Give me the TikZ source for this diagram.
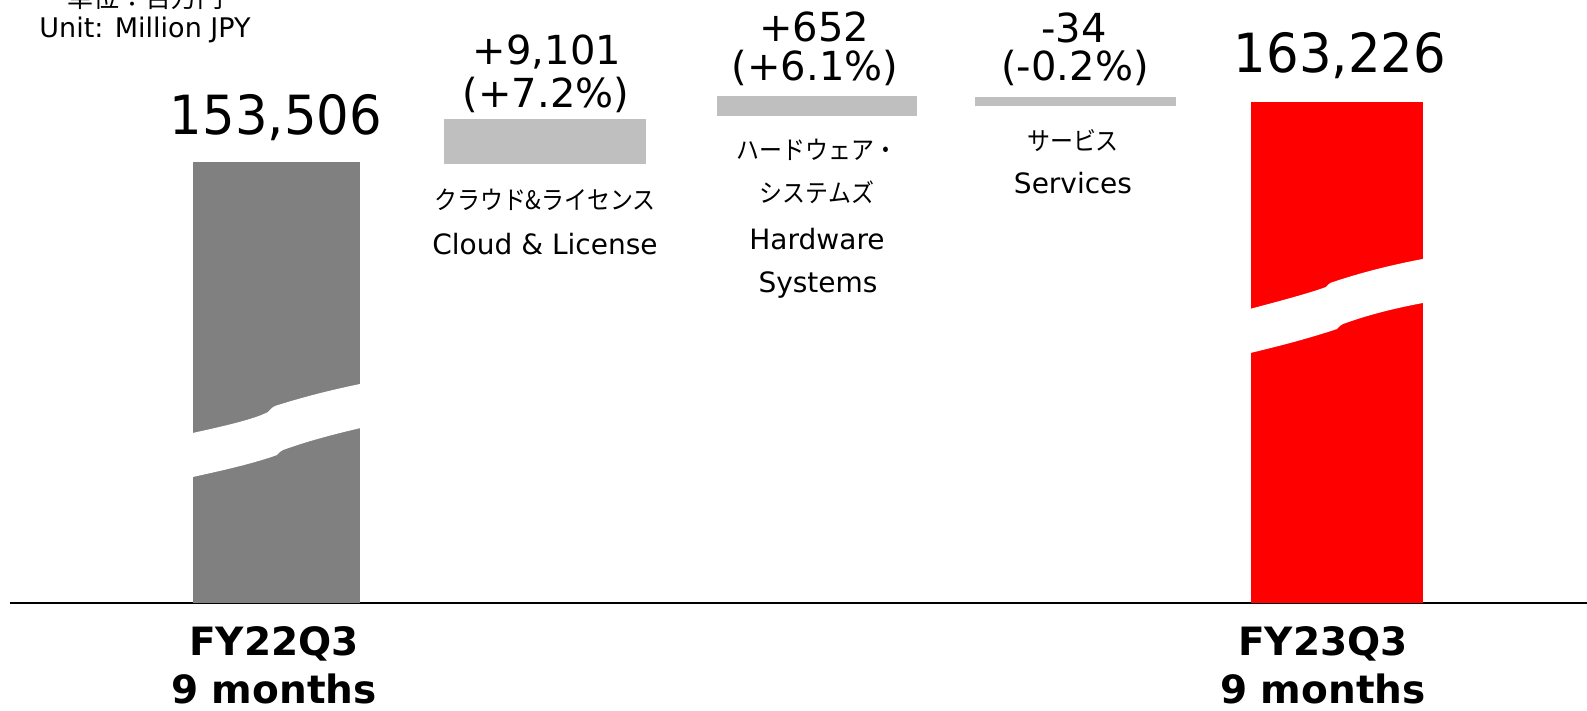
\documentclass[tikz,border=0pt]{standalone}
\usepackage{fontspec}
\setmainfont{DejaVu Sans}
\newfontfamily\jp[FakeStretch=0.9]{Noto Sans CJK JP}
\newfontfamily\jpu{Noto Sans CJK JP}
\newfontfamily\bignum[FakeStretch=0.95]{DejaVu Sans}
\definecolor{deltagray}{RGB}{191,191,191}
\definecolor{basegray}{RGB}{128,128,128}
\definecolor{curred}{RGB}{255,0,0}
\tikzset{
  lbl/.style={font=\fontsize{28}{28}\selectfont, anchor=base, inner sep=0pt},
  unitlbl/.style={font=\fontsize{27}{27}\selectfont, anchor=base, inner sep=0pt},
  jplbl/.style={font=\jp\fontsize{25.5}{25.5}\selectfont, anchor=base, inner sep=0pt},
  jpunit/.style={font=\jpu\fontsize{26}{26}\selectfont, anchor=base, inner sep=0pt},
  num/.style={font=\fontsize{40}{40}\selectfont, anchor=base, inner sep=0pt},
  totalnum/.style={font=\bignum\fontsize{54}{54}\selectfont, anchor=base, inner sep=0pt},
  period/.style={font=\bfseries\fontsize{39}{39}\selectfont, anchor=base, inner sep=0pt},
  deltabar/.style={fill=deltagray},
}
\begin{document}
\begin{tikzpicture}[x=1pt,y=-1pt]
\useasboundingbox (0,0) rectangle (1587,711);
% axis
\draw[line width=2.5pt, black] (10,603) -- (1587,603);
% FY22 bar
\fill[basegray] (193,162) rectangle (360,603);
\fill[white] (188,434) .. controls (225,426) and (255,419) .. (268,412)
  .. controls (270,410) and (271,408) .. (275,406)
  .. controls (300,398) and (330,390) .. (365,383)
  -- (365,427) .. controls (330,435) and (305,442) .. (283,450)
  .. controls (280,451) and (279,453) .. (277,455)
  .. controls (255,463) and (225,470) .. (188,478) -- cycle;
% FY23 bar
\fill[curred] (1251,102) rectangle (1423,603);
\fill[white] (1246,310) .. controls (1280,301) and (1310,293) .. (1326,287)
  .. controls (1328,285) and (1329,283) .. (1333,282)
  .. controls (1360,273) and (1390,265) .. (1428,258)
  -- (1428,302) .. controls (1390,309) and (1365,316) .. (1343,324)
  .. controls (1340,325) and (1339,327) .. (1337,329)
  .. controls (1310,338) and (1280,346) .. (1246,354) -- cycle;
% delta bars
\fill[deltabar] (444,119) rectangle (646,164);
\fill[deltabar] (717,96) rectangle (917,116);
\fill[deltabar] (975,97) rectangle (1176,106);
% unit
\node[jpunit] (unitjp) at (145,8) {単位：百万円};
\node[unitlbl] (unit) at (145,38) {Unit: Million JPY};
% totals
\node[totalnum] (v22) at (276,135) {153,506};
\node[totalnum] (v23) at (1340,73) {163,226};
% deltas
\node[num] (d1) at (547,65) {+9,101};
\node[num] (p1) at (546,108) {(+7.2\%)};
\node[num] (d2) at (814,42) {+652};
\node[num] (p2) at (815,81) {(+6.1\%)};
\node[num] (d3) at (1074,43) {-34};
\node[num] (p3) at (1075,81) {(-0.2\%)};
% category labels
\node[jplbl] (c1jp) at (545,210) {クラウド\&ライセンス};
\node[lbl] (c1) at (545,255) {Cloud \& License};
\node[jplbl] (c2jpa) at (817,160) {ハードウェア・};
\node[jplbl] (c2jpb) at (817,203) {システムズ};
\node[lbl] (c2a) at (817,250) {Hardware};
\node[lbl] (c2b) at (818,292) {Systems};
\node[jplbl] (c3jp) at (1073,151) {サービス};
\node[lbl] (c3) at (1073,194) {Services};
% periods
\node[period] (f22a) at (274,655) {FY22Q3};
\node[period] (f22b) at (274,703) {9 months};
\node[period] (f23a) at (1323,655) {FY23Q3};
\node[period] (f23b) at (1323,703) {9 months};
\end{tikzpicture}
\end{document}
